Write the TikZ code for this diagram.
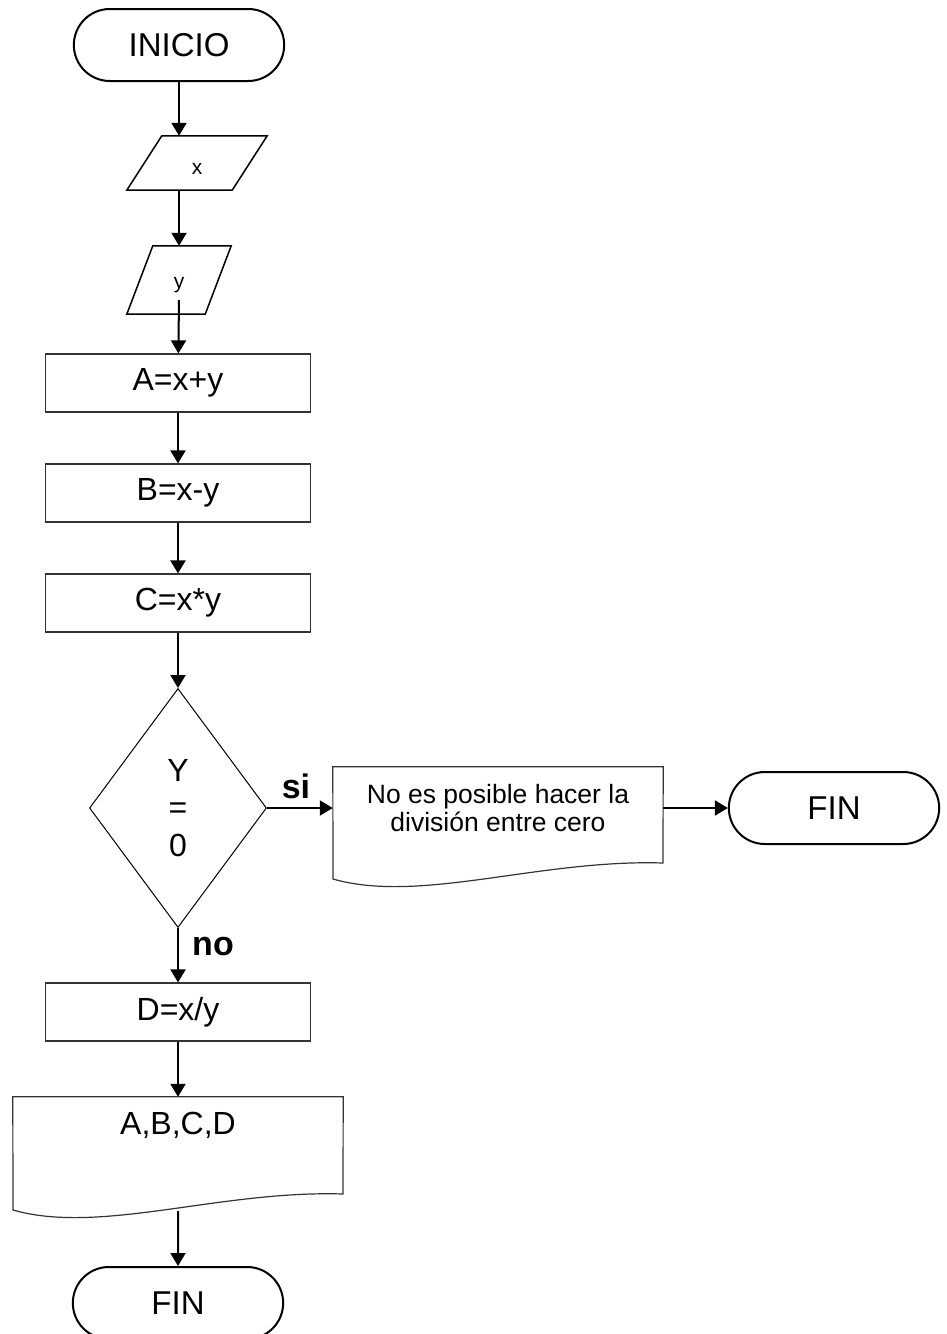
\documentclass[tikz,border=0pt]{standalone}
\usepackage{fontspec}
\setmainfont{Liberation Sans}
\usetikzlibrary{shapes.geometric,shapes.misc,arrows.meta}
\begin{document}
\begin{tikzpicture}[x=1pt, y=-1pt,
    term/.style={draw, line width=2pt, rounded rectangle, minimum width=217pt, minimum height=72pt, font=\fontsize{33}{40}\selectfont},
    proc/.style={draw=black!80, line width=1.2pt, rectangle, minimum width=265pt, minimum height=58pt, font=\fontsize{32}{38}\selectfont},
    inp/.style={rectangle, text height=22pt, font=\fontsize{21}{25}\selectfont},
    slant/.style={draw, line width=1.5pt},
    dec/.style={draw, line width=1pt, diamond, inner sep=0pt, minimum width=177pt, minimum height=239pt, align=center, font=\fontsize{32}{37.5}\selectfont},
    docbox/.style={rectangle, minimum width=330pt},
    lbl/.style={font=\bfseries\fontsize{34}{40}\selectfont},
    flow/.style={line width=2pt, -{Triangle[length=13pt, width=15pt]}}]
    \useasboundingbox (0,0) rectangle (947,1334);

    \node[term] (ini) at (179,45) {INICIO};
    \node[inp, minimum width=105pt, minimum height=54pt] (xin) at (197,163) {x};
    \node[inp, minimum width=78pt, minimum height=68pt] (yin) at (179,280) {y};
    \node[proc] (opa) at (178,383) {A=x+y};
    \node[proc] (opb) at (178,493) {B=x-y};
    \node[proc] (opc) at (178,603) {C=x*y};
    \node[dec] (cero) at (178,808) {Y\\=\\0};
    \node[docbox, minimum height=82pt, align=center, font=\fontsize{26.5}{28}\selectfont] (msg) at (498,808) {No es posible hacer la\\división entre cero};
    \node[term] (fin1) at (834,808) {FIN};
    \node[proc] (opd) at (178,1012) {D=x/y};
    \node[docbox, minimum height=114pt] (out) at (178,1154) {};
    \node[font=\fontsize{32}{38}\selectfont] (outtxt) at (178,1125) {A,B,C,D};
    \node[term] (fin2) at (178,1303) {FIN};
    \node[lbl] (si) at (296,786) {si};
    \node[lbl] (no) at (213,946) {no};

    % data shapes
    \draw[slant] ([xshift=17.5pt]xin.north west) -- ([xshift=17.5pt]xin.north east) -- ([xshift=-17.5pt]xin.south east) -- ([xshift=-17.5pt]xin.south west) -- cycle;
    \draw[slant] ([xshift=13pt]yin.north west) -- ([xshift=13pt]yin.north east) -- ([xshift=-13pt]yin.south east) -- ([xshift=-13pt]yin.south west) -- cycle;
    % document shapes
    \draw[draw=black!80, line width=1.2pt] (msg.north west) -- (msg.north east) -- (663,863) .. controls (540,859) and (420,904) .. (333,879) -- cycle;
    \draw[draw=black!80, line width=1.2pt] (out.north west) -- (out.north east) -- (343,1194) .. controls (220,1190) and (100,1235) .. (13,1210) -- cycle;

    \draw[flow] (ini.south) -- (ini.south |- xin.north);
    \draw[flow] (ini.south |- xin.south) -- (ini.south |- yin.north);
    \draw[flow] ([yshift=-20pt]yin.center) -- (opa);
    \draw[flow] (opa) -- (opb);
    \draw[flow] (opb) -- (opc);
    \draw[flow] (opc) -- (cero);
    \draw[flow] (cero) -- (msg);
    \draw[flow] (msg) -- (fin1);
    \draw[flow] (cero) -- (opd);
    \draw[flow] (opd) -- (out);
    \draw[flow] (out) -- (fin2);
\end{tikzpicture}
\end{document}
